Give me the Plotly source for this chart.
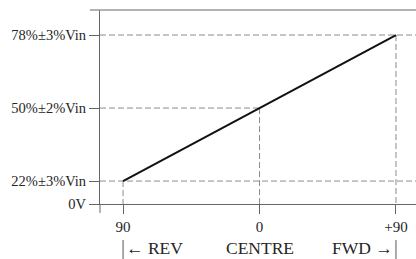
import plotly.graph_objects as go

# ---- data ----
position_deg = [-90, 0, 90]          # stick position (REV .. CENTRE .. FWD)
output_pct = [22, 50, 78]            # output as % of Vin
x_tick_vals = [-90, 0, 90]
x_tick_text = ["90", "0", "+90"]
y_floor = 13.2                       # axis break, drawn as 0V
y_tick_vals = [y_floor, 22, 50, 78]
y_tick_text = ["0V", "22%±3%Vin", "50%±2%Vin", "78%±3%Vin"]
direction_labels = ["\u2190 REV", "CENTRE", "FWD \u2192"]

X_RANGE = [-105.2, 103.2]
Y_RANGE = [y_floor, 87.6]

FONT = "Liberation Serif, Times New Roman, serif"
AXIS_C = "#666666"
TOP_C = "#9a9a9a"
DASH_C = "#8c8c8c"
TEXT_C = "#262626"
DASH = "6px,3px"

fig = go.Figure()
fig.add_trace(go.Scatter(x=position_deg, y=output_pct, mode="lines",
                         line=dict(color="#111111", width=2), hoverinfo="skip"))

shapes = []
# horizontal reference lines
for xv, yv in zip(position_deg, output_pct):
    if xv == 0:
        shapes.append(dict(type="line", xref="x", yref="y", x0=X_RANGE[0], x1=xv, y0=yv, y1=yv,
                           line=dict(color=DASH_C, width=1, dash=DASH), layer="below"))
    else:
        shapes.append(dict(type="line", xref="paper", yref="y", x0=0, x1=1, y0=yv, y1=yv,
                           line=dict(color=DASH_C, width=1, dash=DASH), layer="below"))
    # vertical drop lines
    shapes.append(dict(type="line", xref="x", yref="y", x0=xv, x1=xv, y0=yv, y1=Y_RANGE[0],
                       line=dict(color=DASH_C, width=1, dash=DASH), layer="below"))
# end bars of the direction arrows
for xv in (position_deg[0], position_deg[-1]):
    shapes.append(dict(type="line", xref="x", yref="paper", x0=xv, x1=xv, y0=-0.186, y1=-0.30,
                       line=dict(color="#555555", width=1)))
# y-axis extension below the x axis
shapes.append(dict(type="line", xref="paper", yref="paper", x0=0, x1=0, y0=-0.046, y1=0,
                   line=dict(color=AXIS_C, width=1)))
# top frame line (starts slightly left of the y axis)
shapes.append(dict(type="line", xref="paper", yref="paper", x0=-0.032, x1=1, y0=1, y1=1,
                   line=dict(color=TOP_C, width=1.5)))

annotations = [
    dict(text=direction_labels[0], x=position_deg[0], xref="x", y=-0.225, yref="paper",
         xanchor="left", yanchor="middle", xshift=1, showarrow=False),
    dict(text=direction_labels[1], x=position_deg[1], xref="x", y=-0.225, yref="paper",
         xanchor="center", yanchor="middle", showarrow=False),
    dict(text=direction_labels[2], x=position_deg[2], xref="x", y=-0.225, yref="paper",
         xanchor="right", yanchor="middle", xshift=-1, showarrow=False),
]
for a in annotations:
    a["font"] = dict(family=FONT, size=17.5, color=TEXT_C)

fig.update_layout(
    width=416, height=259,
    margin=dict(l=100, r=0, t=10, b=55),
    paper_bgcolor="white", plot_bgcolor="white",
    showlegend=False,
    shapes=shapes, annotations=annotations,
    xaxis=dict(range=X_RANGE, tickvals=x_tick_vals, ticktext=x_tick_text,
               showline=True, linecolor=AXIS_C, linewidth=1,
               ticks="outside", ticklen=9, tickcolor=AXIS_C, showgrid=False, zeroline=False,
               tickfont=dict(family=FONT, size=15, color=TEXT_C), fixedrange=True),
    yaxis=dict(range=Y_RANGE, tickvals=y_tick_vals, ticktext=y_tick_text,
               showline=True, linecolor=AXIS_C, linewidth=1,
               ticks="outside", ticklen=10, tickcolor=AXIS_C, showgrid=False, zeroline=False,
               tickfont=dict(family=FONT, size=14.5, color=TEXT_C), fixedrange=True),
)

fig.write_html("out.html", config={"displayModeBar": False},
               post_script="document.body.style.margin='0';document.body.style.overflow='hidden';")
